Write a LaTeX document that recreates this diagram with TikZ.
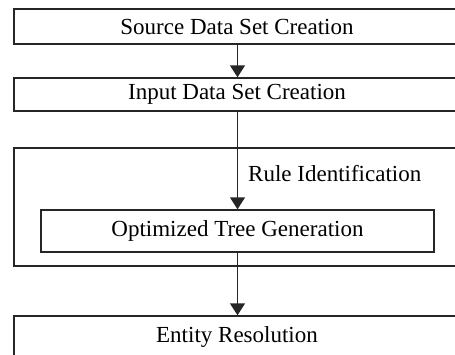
\documentclass[tikz,border=0pt]{standalone}
\usepackage{fontspec}
\setmainfont{Liberation Serif}
\usetikzlibrary{arrows.meta}
\begin{document}
\begin{tikzpicture}[x=1pt,y=-1pt,
  box/.style={draw=black!85,line width=1.4pt,rectangle,inner sep=0pt,
    font=\fontsize{23}{27}\selectfont},
  conn/.style={draw=black!85,line width=1.4pt,-{Triangle[width=15pt,length=12pt]}},
  lbl/.style={font=\fontsize{23}{27}\selectfont,inner sep=0pt}]
\clip (0,0) rectangle (455,354);
\node[box,minimum width=446pt,minimum height=35pt] (src) at (237,26.5) {Source Data Set Creation};
\node[box,minimum width=446pt,minimum height=33pt] (inp) at (237,94.5) {Input Data Set Creation};
\node[box,minimum width=446pt,minimum height=118pt] (outer) at (237,207) {};
\node[box,minimum width=393pt,minimum height=42pt] (opt) at (237.5,231) {Optimized Tree Generation};
\node[box,minimum width=446pt,minimum height=42pt] (ent) at (237,337) {Entity Resolution};
\node[lbl,anchor=west] (rule) at (248,174) {Rule Identification};
\draw[conn] (src.south -| opt.north) -- (inp.north -| opt.north);
\draw[conn] (inp.south -| opt.north) -- (opt.north);
\draw[conn] (opt.south) -- (ent.north -| opt.south);
\end{tikzpicture}
\end{document}
